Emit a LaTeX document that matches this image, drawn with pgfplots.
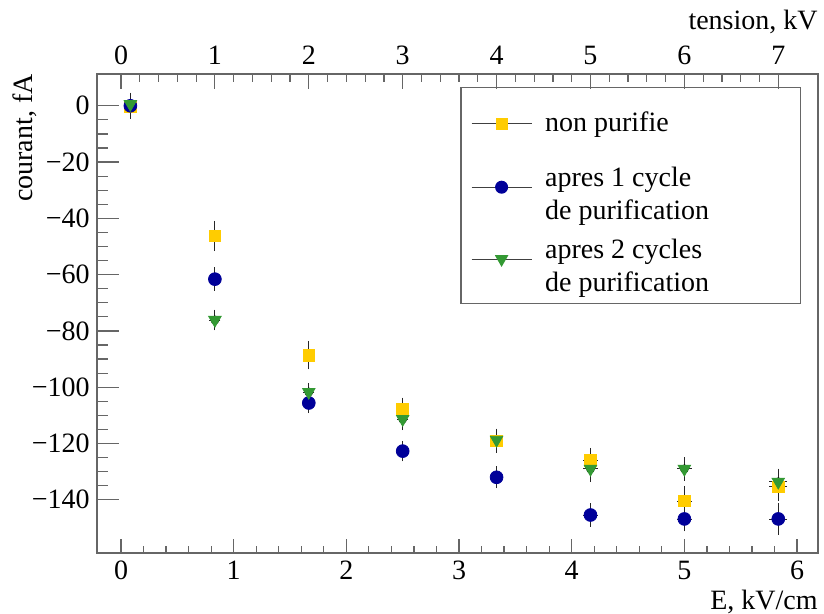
\documentclass[border=0pt]{standalone}
\usepackage{fontspec}
\setmainfont{Liberation Serif}
\usepackage{pgfplots}
\usepackage{pgfplotstable}
\pgfplotsset{compat=1.18}
\definecolor{cyel}{RGB}{255,204,0}
\definecolor{cblu}{RGB}{0,0,153}
\definecolor{cgrn}{RGB}{51,153,51}
\colorlet{axc}{black!60}

\pgfplotstableread{
x       y       ex     ey
0.0833  -0.3    0.03   3.6
0.8333  -46.3   0.03   4.6
1.6667  -88.6   0.03   4.3
2.5     -107.7  0.03   3.2
3.3333  -119.1  0.03   3.4
4.1667  -125.9  0.045  3.6
5.0     -140.4  0.045  4.6
5.8333  -135.4  0.06   4.3
}\yellowdata

\pgfplotstableread{
x       y       ex     ey
0.0833  0.0     0.03   3.6
0.8333  -61.6   0.03   3.4
1.6667  -105.6  0.03   2.8
2.5     -122.7  0.03   2.9
3.3333  -132.0  0.03   3.2
4.1667  -145.4  0.045  3.4
5.0     -146.8  0.045  3.6
5.8333  -146.8  0.06   4.8
}\bluedata

\pgfplotstableread{
x       y       ex     ey
0.0833  0.6     0.03   3.3
0.8333  -76.1   0.03   2.9
1.6667  -101.7  0.03   2.5
2.5     -111.3  0.03   3.2
3.3333  -118.7  0.03   3.2
4.1667  -129.0  0.045  3.9
5.0     -129.0  0.045  3.4
5.8333  -133.6  0.06   3.9
}\greendata

\begin{document}
\fontsize{14}{16.8}\selectfont
\begin{tikzpicture}
\pgfplotsset{
  common/.style={
    scale only axis, width=360.5pt, height=239.5pt,
    ymin=-158.9, ymax=11.3,
    axis line style={axc, line width=0.6pt},
    every tick/.style={axc, line width=0.6pt},
    tick align=inside,
    /pgf/number format/assume math mode=true,
    ticklabel style={font=\fontsize{14}{16.8}\selectfont},
  },
  legimg/.style={legend image code/.code={
      \draw[black!75, line width=0.5pt] (0pt,0pt) -- (30pt,0pt);
      \draw[mark repeat=2, mark phase=2, ##1, every mark/.append style={scale=0.92}] plot coordinates {(0pt,0pt) (15pt,0pt) (30pt,0pt)};
  }},
  errs/.style={forget plot, only marks, mark=none,
    error bars/.cd, x dir=both, x explicit, y dir=both, y explicit},
}
% main axis: data, y axis, frame
\begin{axis}[common, name=main,
  xmin=-0.213, xmax=6.186,
  xtick=\empty,
  ytick={-140,-120,-100,-80,-60,-40,-20,0},
  yticklabels={−140,−120,−100,−80,−60,−40,−20,0},
  minor y tick num=3,
  ytick pos=left,
  major tick length=11pt, minor tick length=5.5pt,
  yticklabel style={anchor=east, inner sep=0pt, xshift=-3.5pt},
  clip=false,
  legend style={at={(axis description cs:0.976,0.973)}, anchor=north east,
    draw=axc, line width=0.6pt, fill=white,
    inner xsep=5pt, inner ysep=10pt, row sep=11.5pt,
    font=\fontsize{14}{16.8}\selectfont,
    nodes={inner xsep=6.5pt}},
  legend cell align=left,
  error bars/error bar style={black!85, line width=0.4pt},
  error bars/error mark options={black!85, mark size=1.1pt, line width=0.4pt},
]
\addplot[errs] table[x=x, y=y, x error=ex, y error=ey] {\yellowdata};
\addplot[errs] table[x=x, y=y, x error=ex, y error=ey] {\bluedata};
\addplot[errs] table[x=x, y=y, x error=ex, y error=ey] {\greendata};
\addplot[only marks, mark=square*, mark size=2.9pt, cyel, legimg]
  table[x=x, y=y] {\yellowdata};
\addlegendentry{\parbox[c]{116pt}{non purifie}}
\addplot[only marks, mark=*, mark size=3.2pt, cblu, legimg]
  table[x=x, y=y] {\bluedata};
\addlegendentry{\parbox[c]{116pt}{apres 1 cycle\\de purification}}
\addplot[only marks, mark=triangle*, mark options={rotate=180}, mark size=3.6pt, cgrn, legimg]
  table[x=x, y=y] {\greendata};
\addlegendentry{\parbox[c]{116pt}{apres 2 cycles\\de purification}}
\node[anchor=base east, inner sep=0pt, yshift=-28.5pt] at (axis description cs:1,0) {E, kV/cm};
\node[anchor=base east, inner sep=0pt, yshift=22pt] at (axis description cs:1,1) {tension, kV};
\node[rotate=90, anchor=east, inner sep=0pt, yshift=36pt] at (axis description cs:0,1) {courant, fA};
\end{axis}
% bottom x axis
\begin{axis}[common, hide y axis,
  xmin=-0.213, xmax=6.186,
  axis x line*=bottom,
  xtick={0,1,2,3,4,5,6}, minor x tick num=4,
  major tick length=7pt, minor tick length=3.5pt,
  xticklabel style={anchor=base, inner sep=0pt, yshift=-13.5pt},
]
\addplot[draw=none] coordinates {(0,0)};
\end{axis}
% top x axis
\begin{axis}[common, hide y axis,
  xmin=-0.2556, xmax=7.423,
  axis x line*=top,
  xtick={0,1,2,3,4,5,6,7}, minor x tick num=4,
  major tick length=7.5pt, minor tick length=4pt,
  xticklabel style={anchor=base, inner sep=0pt, yshift=4.5pt},
]
\addplot[draw=none] coordinates {(0,0)};
\end{axis}
\pgfresetboundingbox
\path (main.south west) ++(-48.5pt,-30.5pt) rectangle ++(412pt,307pt);
\end{tikzpicture}
\end{document}
